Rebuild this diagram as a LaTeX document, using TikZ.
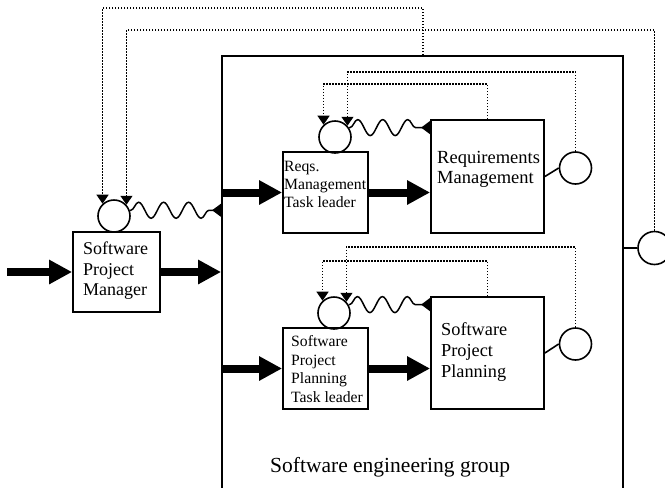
\documentclass[tikz,border=0pt]{standalone}
\usepackage{fontspec}
\setmainfont{Liberation Serif}
\usetikzlibrary{arrows.meta,decorations.pathmorphing}

\begin{document}
\begin{tikzpicture}[x=1pt,y=-1pt,
  frame/.style={draw,line width=1.8pt,inner sep=0pt},
  ring/.style={draw,circle,line width=1.6pt,minimum size=32pt,inner sep=0pt},
  lbl/.style={anchor=north west,align=left,inner sep=0pt},
  fat/.style={line width=8pt,-{Triangle[length=23pt,width=23pt]}},
  dots/.style={line width=1.3pt,dash pattern=on 1.3pt off 1.7pt,
               -{Triangle[length=9pt,width=12pt]}},
  wave/.style={line width=1.5pt,decorate,
               decoration={snake,segment length=25pt,amplitude=8pt,
                           pre length=1pt,post length=10pt},
               -{Triangle[reversed,length=9pt,width=13pt]}},
  link/.style={line width=1.6pt}]

\clip (0,0) rectangle (665,488);

% blocks
\node[frame,minimum width=401pt,minimum height=480pt] (bb) at (422.5,296) {};
\node[frame,minimum width=87pt,minimum height=80pt] (spm) at (116.5,272) {};
\node[ring] (spmc) at (114,216) {};
\node[frame,minimum width=85pt,minimum height=81pt] (rq) at (325.5,192.5) {};
\node[ring] (rqc) at (335,137) {};
\node[frame,minimum width=113pt,minimum height=113pt] (rm) at (487.5,176.5) {};
\node[ring] (rmc) at (575.5,168) {};
\node[frame,minimum width=85pt,minimum height=81pt] (st) at (325.5,368.5) {};
\node[ring] (stc) at (334,313) {};
\node[frame,minimum width=113pt,minimum height=112pt] (sp) at (487.5,353) {};
\node[ring] (spc) at (575.5,344) {};
\node[ring,minimum size=33pt] (oc) at (654.5,248) {};

% texts
\node[lbl,font=\fontsize{18}{20.5}\selectfont] (tspm) at (83,241.7) {Software\\Project\\Manager};
\node[lbl,font=\fontsize{15.7}{18}\selectfont] (trq) at (284,161.3) {Reqs.\\Management\\Task leader};
\node[lbl,font=\fontsize{18.5}{20}\selectfont] (trm) at (437,150.6) {Requirements\\Management};
\node[lbl,font=\fontsize{15.7}{18.7}\selectfont] (tst) at (291,335.3) {Software\\Project\\Planning\\Task leader};
\node[lbl,font=\fontsize{18.3}{21}\selectfont] (tsp) at (441,322.5) {Software\\Project\\Planning};
\node[anchor=base west,inner sep=0pt,font=\fontsize{21.5}{24}\selectfont] (tbb) at (270,472) {Software engineering group};

% routing levels of the feedback lines
\coordinate (t1) at (423,8);
\coordinate (t2) at (0,30);
\coordinate (r1) at (0,72);
\coordinate (r2) at (0,84);
\coordinate (p1) at (0,247);
\coordinate (p2) at (0,261);

% feedback (dotted)
\draw[dots] (bb.north -| t1) -- (t1) -| (spmc.133);
\draw[dots] (oc.north) -- (oc.north |- t2) -| (spmc.42);
\draw[dots] (rmc.north) -- (rmc.north |- r1) -| (rqc.42);
\draw[dots] (rm.north) -- (rm.north |- r2) -| (rqc.133);
\draw[dots] (spc.north) -- (spc.north |- p1) -| (stc.42);
\draw[dots] (sp.north) -- (sp.north |- p2) -| (stc.133);

% main flow
\coordinate (src) at (7,272);
\draw[fat] (src) -- (spm.west);
\draw[fat] (spm.east) -- (bb.west |- spm.east);
\draw[fat] (bb.west |- rq.west) -- (rq.west);
\draw[fat] (rq.east) -- (rm.west |- rq.east);
\draw[fat] (bb.west |- st.west) -- (st.west);
\draw[fat] (st.east) -- (sp.west |- st.east);

% control (wavy)
\draw[wave] (spmc.20) -- (bb.west |- spmc.20);
\draw[wave] (rqc.34) -- (rm.west |- rqc.34);
\draw[wave] (stc.30) -- (sp.west |- stc.30);

% outputs
\draw[link] (rm.east) -- (rmc.west);
\draw[link] (sp.east) -- (spc.west);
\draw[link] (bb.east |- oc.west) -- (oc.west);
\end{tikzpicture}
\end{document}
